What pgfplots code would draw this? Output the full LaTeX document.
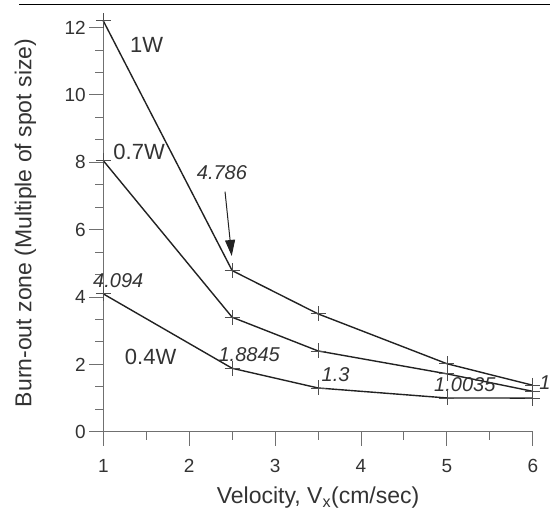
\documentclass[border=0pt]{standalone}
\usepackage{fontspec}
\setmainfont{Liberation Sans}
\usepackage{pgfplots}
\pgfplotsset{compat=1.18}
\usetikzlibrary{arrows.meta}

\definecolor{axisgray}{HTML}{707070}
\definecolor{ink}{HTML}{222222}
\definecolor{txt}{HTML}{333333}

\pgfplotsset{burn/.style={ink, line width=1.4pt, mark=+, mark size=7.5pt,
    mark options={solid, line width=0.8pt, draw=ink!80!white}}}

\begin{document}
\begin{tikzpicture}
\begin{axis}[
  scale only axis,
  width=429.4pt, height=417.5pt,
  xmin=1, xmax=6, ymin=0, ymax=12.4,
  axis x line=bottom, axis y line=left,
  axis line style={-, axisgray, line width=1pt},
  xtick={1,2,3,4,5,6}, minor x tick num=1,
  ytick={0,2,4,6,8,10,12}, minor y tick num=2,
  tick align=outside,
  major tick length=14pt, minor tick length=8pt,
  tick style={axisgray, line width=1pt},
  /pgf/number format/assume math mode=true,
  ticklabel style={font=\fontsize{19}{22}\selectfont, text=txt},
  xticklabel shift=10pt,
  xlabel={Velocity, V\textsubscript{x}(cm/sec)},
  ylabel={Burn-out zone (Multiple of spot size)},
  label style={font=\fontsize{23}{26}\selectfont, text=txt},
  xlabel style={at={(rel axis cs:0.5,0)}, anchor=base, yshift=-72pt},
  ylabel style={at={(rel axis cs:0,0.5)}, anchor=base, yshift=72pt},
  clip=false,
]
% 1 W
\addplot[burn] coordinates {(1,12.2) (2.5,4.786) (3.5,3.5) (5,2.02) (6,1.38)};
% 0.7 W
\addplot[burn] coordinates {(1,8.05) (2.5,3.4) (3.5,2.4) (5,1.72) (6,1.2)};
% 0.4 W
\addplot[burn] coordinates {(1,4.094) (2.5,1.8845) (3.5,1.3) (5,1.0035) (6,1.0)};

\begin{scope}[every node/.style={text=txt, inner sep=0pt}]
\node[anchor=base west, font=\fontsize{22}{24}\selectfont] at (axis cs:1.31,11.25) {1W};
\node[anchor=base west, font=\fontsize{22}{24}\selectfont] at (axis cs:1.116,8.09) {0.7W};
\node[anchor=base west, font=\fontsize{22}{24}\selectfont] at (axis cs:1.25,2.0) {0.4W};
\node[anchor=base west, font=\itshape\fontsize{20}{22}\selectfont] at (axis cs:2.087,7.48) {4.786};
\node[anchor=base west, font=\itshape\fontsize{20}{22}\selectfont] at (axis cs:0.88,4.29) {4.094};
\node[anchor=base west, font=\itshape\fontsize{20}{22}\selectfont] at (axis cs:2.34,2.08) {1.8845};
\node[anchor=base west, font=\itshape\fontsize{20}{22}\selectfont] at (axis cs:3.54,1.49) {1.3};
\node[anchor=base west, font=\itshape\fontsize{20}{22}\selectfont] at (axis cs:4.85,1.19) {1.0035};
\node[anchor=base west, font=\itshape\fontsize{20}{22}\selectfont] at (axis cs:6.075,1.24) {1};
\end{scope}
\draw[ink, line width=1pt, -{Triangle[length=16pt, width=10pt]}]
  (axis cs:2.417,7.13) -- (axis cs:2.495,5.22);
\draw[black, line width=1.5pt] (axis cs:0.019,12.69) -- (axis cs:7.1,12.69);
\coordinate (bl) at (axis cs:-0.2026,-2.83);
\coordinate (tr) at (axis cs:6.2,12.82);
\end{axis}
\pgfresetboundingbox
\useasboundingbox (bl) rectangle (tr);
\end{tikzpicture}
\end{document}
